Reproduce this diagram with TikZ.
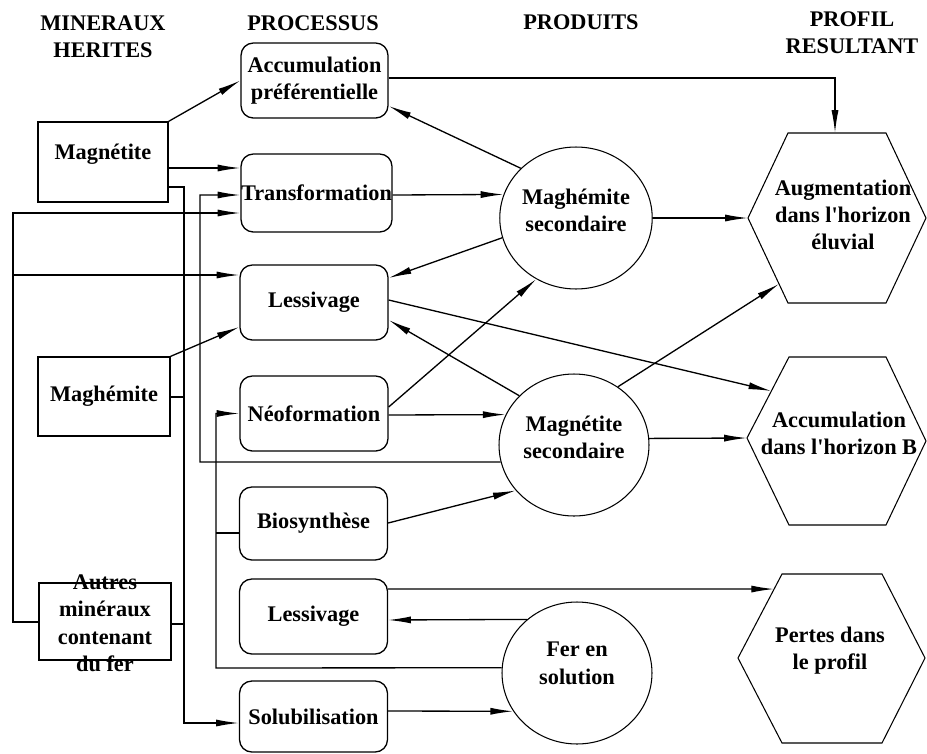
\documentclass[tikz,border=0pt]{standalone}
\usepackage{fontspec}
\newfontfamily\lib{Liberation Serif}
\usetikzlibrary{arrows.meta,shapes.geometric,calc}
\newcommand{\ctext}[2]{\smash{\raisebox{#1}{\begin{tabular}{@{}c@{}}#2\end{tabular}}}}
\begin{document}
\begin{tikzpicture}[x=0.02cm,y=-0.02cm,
  every node/.style={font=\lib\bfseries\fontsize{12.7}{15.5}\selectfont},
  lbox/.style={draw,line width=0.75pt,inner sep=0pt},
  pbox/.style={draw,line width=0.75pt,rounded corners=7pt,inner sep=0pt,align=center,minimum width=2.96cm,minimum height=1.5cm},
  prod/.style={draw,ellipse,line width=0.6pt,inner sep=0pt,minimum width=3cm,minimum height=2.84cm},
  hexa/.style={draw,line width=0.6pt,line join=miter},
  head/.style={align=center},
  txt/.style={align=center},
  con/.style={line width=0.75pt},
  arr/.style={con,-{Latex[length=13pt,width=4pt]}}
]
\useasboundingbox (0,0) rectangle (927,754);

% headers
\node[head] (hmin) at (103,37) {MINERAUX\\HERITES};
\node[head] (hpro) at (313,23) {PROCESSUS};
\node[head] (hprd) at (581,22) {PRODUITS};
\node[head] (hprf) at (852,33) {PROFIL\\RESULTANT};

% inherited minerals
\node[lbox,minimum width=2.6cm,minimum height=1.6cm] (mag) at (103,162) {\ctext{1.5pt}{Magnétite}};
\node[lbox,minimum width=2.64cm,minimum height=1.58cm] (mgh) at (104,396.5) {Maghémite};
\node[lbox,minimum width=2.64cm,minimum height=1.54cm] (aut) at (105,621.5)
  {\ctext{-5pt}{Autres\\minéraux\\contenant\\du fer}};

% processes
\node[pbox,minimum width=2.94cm] (acc) at (314.5,80.5) {Accumulation\\préférentielle};
\node[pbox,minimum width=3.02cm,minimum height=1.56cm] (tra) at (316.5,193) {Transformation};
\node[pbox] (les1) at (314,302.5) {Lessivage};
\node[pbox] (neo) at (314,413.5) {Néoformation};
\node[pbox,minimum height=1.46cm] (bio) at (313.5,523.5) {Biosynthèse};
\node[pbox] (les2) at (313.5,616.5) {Lessivage};
\node[pbox,minimum height=1.42cm] (sol) at (313.5,716.5) {Solubilisation};

% products
\node[prod] (mse) at (576,218) {\ctext{0pt}{Maghémite\\secondaire}};
\node[prod] (mts) at (574,445) {\ctext{0pt}{Magnétite\\secondaire}};
\node[prod] (fer) at (577,673) {\ctext{1.5pt}{Fer en\\solution}};

% resulting profile (hexagons)
\coordinate (augL) at (748,218); \coordinate (augTL) at (788,133);
\coordinate (augTR) at (886,133); \coordinate (augR) at (926,218);
\coordinate (augBR) at (886,303); \coordinate (augBL) at (788,303);
\coordinate (augT) at (835,133);
\coordinate (augE) at ($(augL)!0.776!(augBL)$);
\draw[hexa] (augL) -- (augTL) -- (augTR) -- (augR) -- (augBR) -- (augBL) -- cycle;
\node[txt] (aug) at (843,215) {Augmentation\\dans l'horizon\\éluvial};

\coordinate (accbL) at (747,438); \coordinate (accbTL) at (789,357);
\coordinate (accbTR) at (886,357); \coordinate (accbR) at (926,441);
\coordinate (accbBR) at (886,525); \coordinate (accbBL) at (789,525);
\coordinate (accbE) at ($(accbL)!0.58!(accbTL)$);
\draw[hexa] (accbL) -- (accbTL) -- (accbTR) -- (accbR) -- (accbBR) -- (accbBL) -- cycle;
\node[txt] (accb) at (839,433) {Accumulation\\dans l'horizon B};

\coordinate (perL) at (738,658); \coordinate (perTL) at (782,574);
\coordinate (perTR) at (882,574); \coordinate (perR) at (925,658);
\coordinate (perBR) at (882,743); \coordinate (perBL) at (782,743);
\coordinate (perE) at ($(perL)!0.821!(perTL)$);
\draw[hexa] (perL) -- (perTL) -- (perTR) -- (perR) -- (perBR) -- (perBL) -- cycle;
\node[txt] (per) at (830,651) {Pertes dans\\le profil};

% connectors from inherited minerals
\draw[arr] (mag.north east) -- (acc.west);
\draw[arr] (mag.east |- 0,168) -- (tra.west |- 0,168);
\draw[arr] (mag.east |- 0,187) -- (184,187) -- (184,723) -- (sol.west |- 0,723);
\draw[con] (mgh.east |- 0,397) -- (184,397);
\draw[con] (aut.east |- 0,624) -- (184,624);
\draw[arr] (aut.west |- 0,622) -- (13,622) -- (13,213) -- (tra.west |- 0,213);
\draw[arr] (13,275) -- (les1.west |- 0,275);
\draw[arr] (mgh.north east) -- (les1.west |- 0,327);

% feedback buses
\draw[arr] (mts.193) -- (200,462) -- (200,195) -- (tra.west |- 0,195);
\draw[arr] (fer.176) -- (216,668) -- (216,413.5) -- (neo.west);
\draw[con] (216,533) -- (bio.west |- 0,533);

% processes <-> products
\draw[arr] (acc.east |- 0,78) -- (835,78) -- (augT);
\draw[arr] (mse.138) -- (acc.east |- 0,106);
\draw[arr] (tra.east |- 0,195) -- (mse.162);
\draw[arr] (mse.195) -- (les1.east |- 0,278);
\draw[arr] (mse.east) -- (augL);
\draw[arr] (neo.east |- 0,407) -- (mse.237);
\draw[arr] (les1.east |- 0,300) -- (accbE);
\draw[arr] (mts.138) -- (les1.east |- 0,320);
\draw[arr] (mts.53) -- (augE);
\draw[arr] (neo.east |- 0,415) -- (mts.156);
\draw[arr] (mts.5) -- (accbL);
\draw[arr] (bio.east |- 0,523) -- (mts.218);
\draw[arr] (les2.east |- 0,589) -- (perE);
\draw[arr] (fer.133) -- (les2.east |- 0,620);
\draw[arr] (sol.east |- 0,711) -- (fer.211);
\end{tikzpicture}
\end{document}
